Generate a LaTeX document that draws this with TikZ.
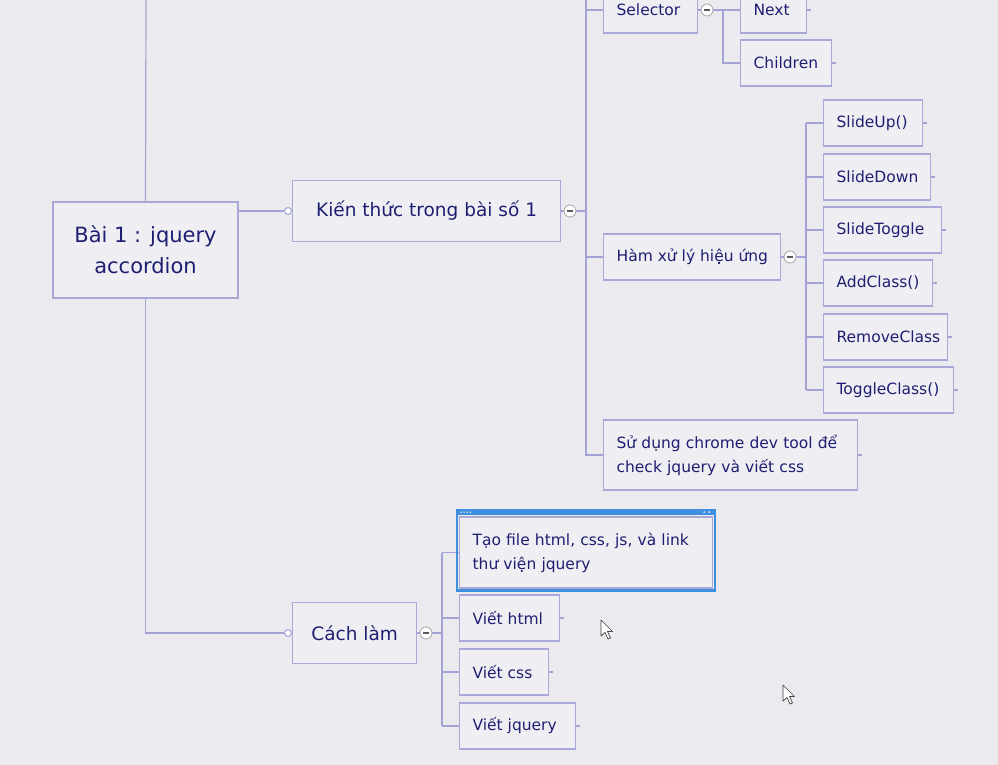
\documentclass[tikz,border=0pt]{standalone}
\usepackage{fontspec}
\setmainfont{DejaVu Sans}
\usetikzlibrary{calc}
\definecolor{paper}{HTML}{EBEBEF}
\definecolor{boxfill}{HTML}{EFEFF3}
\definecolor{boxline}{HTML}{A9A9D9}
\definecolor{wire}{HTML}{A3A3D6}
\definecolor{ink}{HTML}{1E1E72}
\definecolor{selblue}{HTML}{3F8FE0}

\begin{document}
\begin{tikzpicture}
[x=1pt,y=-1pt,
  rootbox/.style={draw=boxline,fill=boxfill,line width=1.2pt,text=ink,align=center,
    minimum width=185pt,minimum height=96pt,font=\fontsize{21}{31}\selectfont},%
  branchbox/.style={draw=boxline,fill=boxfill,line width=1.2pt,text=ink,anchor=west,
    minimum height=61pt,font=\fontsize{18.5}{24}\selectfont},%
  leafbox/.style={draw=boxline,fill=boxfill,line width=1.2pt,text=ink,anchor=west,
    inner xsep=13pt,minimum height=46pt,font=\fontsize{15.5}{24}\selectfont},%
  wiredecorate/.style={draw=wire,line width=1.2pt},%
  opendot/.style={circle,draw=wire,fill=white,line width=1pt,inner sep=0pt,minimum size=7pt},%
  foldbutton/.style={circle,draw=black!35,fill=white,line width=0.8pt,inner sep=0pt,minimum size=12pt,
    path picture={\draw[black!65,line width=1.4pt]
      ([xshift=-3pt]path picture bounding box.center) -- ([xshift=3pt]path picture bounding box.center);}},%
  cursorshape/.style={fill=white,draw=black!75,line width=0.7pt,line join=round}]
\fill[paper] (0,0) rectangle (998,765);
\clip (0,0) rectangle (998,765);
%% root and first level
\node[rootbox] (root) at (145.5,250) {Bài 1 : jquery\\accordion};
\node[opendot] (ktin) at (288,211) {};
\node[branchbox,minimum width=268pt] (kt) at (292,211) {Kiến thức trong bài số 1};
\node[opendot] (clin) at (288,633) {};
\node[branchbox,minimum width=124pt] (cl) at (292,633) {Cách làm};
\node[foldbutton] (ktfold) at (570,211) {};
\node[foldbutton] (clfold) at (426,633) {};
%% second level and leaves
\foreach \name/\x/\y/\w/\txt in {sel/603/10/94/Selector, ham/603/257/177/Hàm xử lý hiệu ứng,
  next/740/10/66/Next, chil/740/63/91/Children,
  up/823/123/99/SlideUp(), down/823/177/107/SlideDown, tog/823/230/118/SlideToggle,
  add/823/283/109/AddClass(), rem/823/337/124/RemoveClass, tgc/823/390/130/ToggleClass(),
  vhtml/459/618/100/Viết html, vcss/459/672/89/Viết css, vjq/459/726/116/Viết jquery}
{
  \pgfmathsetmacro\tw{\w-26}
  \node[leafbox] (\name) at (\x,\y) {\makebox[\tw pt][l]{\txt}};
}
\node[leafbox,minimum height=70pt,text width=228pt,align=left] (sd) at (603,455)
  {Sử dụng chrome dev tool để\\check jquery và viết css};
\node[leafbox,minimum height=71pt,text width=227pt,align=left] (tao) at (459,552.5)
  {Tạo file html, css, js, và link\\thư viện jquery};
\node[foldbutton] (selfold) at (707,10) {};
\node[foldbutton] (hamfold) at (790,257) {};
%% bus points
\coordinate (top) at (146,0);
\coordinate (trunk) at (586,0);
\coordinate (selbus) at (723,10);
\coordinate (hambus) at (806,257);
\coordinate (clbus) at (442,633);
%% edges or lines
\draw[wiredecorate] (top) -- (root.north);
\draw[wiredecorate] (root.east |- ktin) -- (ktin);
\draw[wiredecorate] (root.south) -- (root.south |- clin) -- (clin);
\draw[wiredecorate] (kt.east) -- (ktfold) -- (trunk |- ktfold);
\draw[wiredecorate] (trunk) -- (trunk |- sd) -- (sd.west);
\foreach \sub in {sel,ham}
  \draw[wiredecorate] (trunk |- \sub) -- (\sub.west);
\draw[wiredecorate] (sel.east) -- (selfold) -- (selbus) -- (next.west);
\draw[wiredecorate] (selbus) -- (selbus |- chil) -- (chil.west);
\draw[wiredecorate] (ham.east) -- (hamfold) -- (hambus);
\draw[wiredecorate] (hambus |- up) -- (hambus |- tgc);
\foreach \leaf in {up,down,tog,add,rem,tgc}
  \draw[wiredecorate] (hambus |- \leaf) -- (\leaf.west);
\draw[wiredecorate] (cl.east) -- (clfold) -- (clbus);
\draw[wiredecorate] (clbus |- tao) -- (clbus |- vjq);
\foreach \leaf in {tao,vhtml,vcss,vjq}
  \draw[wiredecorate] (clbus |- \leaf) -- (\leaf.west);
%% short tails
\foreach \leaf in {next,chil,up,down,tog,add,rem,tgc,sd,vhtml,vcss,vjq}
  \draw[wiredecorate] (\leaf.east) -- ++(4,0);
%% selection frame
\draw[selblue,line width=2.5pt] ($(tao.north west)+(-2,-4)$) rectangle ($(tao.south east)+(2,2)$);
\fill[selblue] ($(tao.north west)+(-3.2,-7)$) rectangle ($(tao.north east)+(3.2,-1.5)$);
\foreach \dx in {2,5,8,11}
  \fill[white!85!selblue] ($(tao.north west)+(\dx,-4.2)$) circle (0.8);
\foreach \dx in {-9,-4}
  \fill[white!85!selblue] ($(tao.north east)+(\dx,-4.2)$) circle (1);
%% mouse pointers
\foreach \cx/\cy in {601/620, 783/685}
  \draw[cursorshape,shift={(\cx,\cy)}] (0,0) -- (0,16) -- (4,12.5) -- (7,19) -- (9.5,18)
    -- (6.5,11.5) -- (11.5,11.5) -- cycle;
\end{tikzpicture}
\end{document}
